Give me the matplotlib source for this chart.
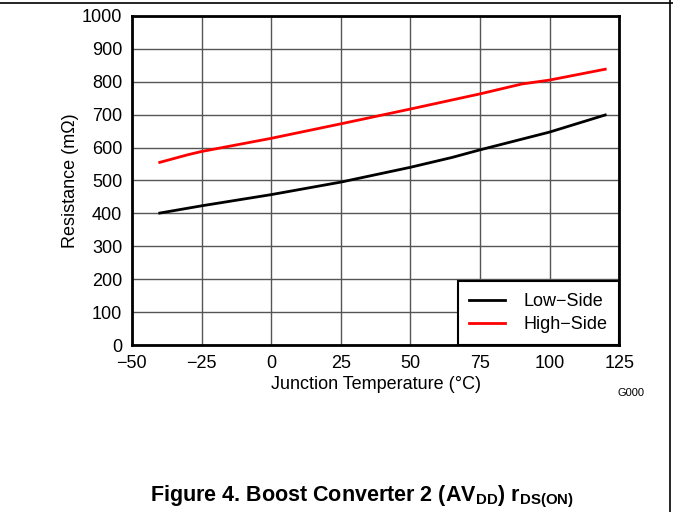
import matplotlib
matplotlib.use("Agg")
import matplotlib.pyplot as plt
from matplotlib.lines import Line2D

plt.rcParams['font.family'] = ['Liberation Sans', 'DejaVu Sans']
plt.rcParams['mathtext.fontset'] = 'custom'
plt.rcParams['mathtext.rm'] = 'Liberation Sans:bold'
plt.rcParams['mathtext.it'] = 'Liberation Sans:bold'
plt.rcParams['mathtext.bf'] = 'Liberation Sans:bold'

# data
low_temp = [-40, -25, 0, 25, 50, 65, 75, 100, 120]
low_res = [401, 423, 457, 495, 540, 570, 593, 647, 699]
high_temp = [-40, -30, -25, 0, 25, 50, 75, 90, 100, 120]
high_res = [555, 578, 588, 628, 672, 717, 763, 793, 805, 838]

x_ticks = [-50, -25, 0, 25, 50, 75, 100, 125]
y_ticks = list(range(0, 1001, 100))

fig = plt.figure(figsize=(6.73, 5.12), dpi=100)
ax = fig.add_axes([0.196, 0.326, 0.724, 0.643])

ax.plot(low_temp, low_res, color='black', lw=2, label='Low\u2212Side')
ax.plot(high_temp, high_res, color='#ff0000', lw=2, label='High\u2212Side')

ax.set_xlim(-50, 125)
ax.set_ylim(0, 1000)
ax.set_xticks(x_ticks)
ax.set_xticklabels([str(t).replace('-', '\u2212') for t in x_ticks])
ax.set_yticks(y_ticks)
ax.tick_params(length=0, labelsize=13, colors='black')
ax.tick_params(axis='x', pad=7)
ax.tick_params(axis='y', pad=7)
ax.grid(True, color='#555555', lw=1)
ax.set_axisbelow(True)
for s in ax.spines.values():
    s.set_linewidth(2)

ax.set_xlabel('Junction Temperature (\u00b0C)', fontsize=13, labelpad=3)
ax.set_ylabel('Resistance (m\u03a9)', fontsize=13, labelpad=2)

leg = ax.legend(loc='lower right', fontsize=13, fancybox=False, framealpha=1,
                edgecolor='black', borderaxespad=0, handlelength=2.0,
                borderpad=0.65, labelspacing=0.35, handletextpad=1.0)
leg.get_frame().set_linewidth(1.5)

fig.text(0.917, 0.232, 'G000', fontsize=8, ha='left', va='center')
fig.text(0.538, 0.029, r'Figure 4. Boost Converter 2 (AV$_{\mathrm{DD}}$) r$_{\mathrm{DS(ON)}}$',
         fontsize=15.5, fontweight='bold', ha='center', va='center')

fig.add_artist(Line2D([0, 1], [0.994, 0.994], color='black', lw=1.2))
fig.add_artist(Line2D([0.996, 0.996], [0, 1], color='black', lw=1.2))

fig.savefig('out.png', dpi=100)
